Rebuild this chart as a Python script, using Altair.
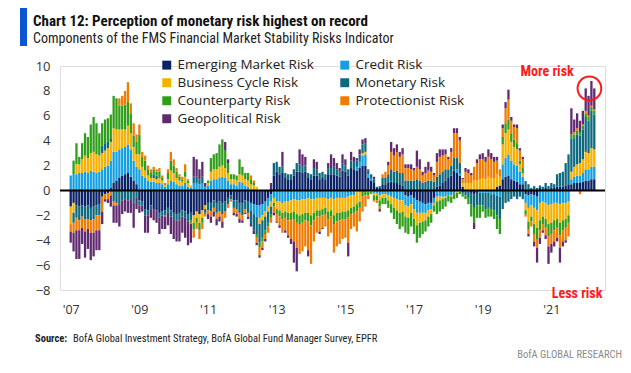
import json
import altair as alt
import pandas as pd

# ---- data: monthly components, Jan 2007 .. Apr 2022 (184 months) ----
EM = [
 -1.3,-1.0,-1.2,-1.3,-1.2,-1.3,-1.2,-1.4,-1.3,-1.2,-1.1,-0.5,
 -0.3,-0.2,0.2,0.6,0.8,1.0,1.2,1.3,1.4,1.1,0.8,0.5,
 -0.8,-0.9,-1.5,-1.6,-1.2,-1.5,-1.6,-1.8,-1.7,-1.6,-1.4,-1.6,
 -1.8,-1.9,-1.8,-1.6,-1.7,-1.9,-1.8,-2.0,-1.7,-1.9,-1.6,-1.2,
 -1.0,-1.0,-0.8,-1.0,-0.9,-1.0,-0.9,-0.6,-0.4,-0.8,-0.8,-1.0,
 -1.0,-0.8,-0.9,-1.0,-1.1,-1.2,-1.2,-1.1,-0.9,-0.6,-0.3,1.2,
 1.5,1.3,1.4,1.0,0.9,0.9,1.2,1.5,1.5,1.4,1.5,1.0,
 0.9,1.2,1.2,0.9,1.0,0.9,1.3,1.3,1.3,1.2,1.1,1.6,
 1.5,1.2,1.8,1.7,1.6,1.8,2.0,2.0,1.0,0.8,0.6,0.2,
 0.2,0.5,0.5,0.6,0.7,0.6,0.6,0.5,0.4,-0.4,-0.5,-0.4,
 -0.6,-0.8,-0.9,-1.0,-1.1,-1.0,-1.0,-0.6,0.3,0.4,0.6,0.8,
 1.0,1.2,1.6,1.4,1.2,0.3,0,0,-0.2,-0.3,-0.2,0,
 0,0,0,0,0,0.3,0.4,0.9,1.1,1.2,0.9,0.8,
 0.7,0.5,0.5,-0.3,-0.4,-0.3,-0.4,-0.5,0.2,0.1,0.2,0.1,
 0.2,0.2,0.3,0.3,0.3,0.4,0.5,0.5,0.6,0.6,0.6,0.7,
 0.8,0.8,0.9,0.9,
]
CR = [
 1.2,1.3,1.3,1.4,1.4,1.5,1.4,1.6,1.5,1.4,1.5,1.7,
 1.9,2.0,2.2,2.5,2.3,2.3,2.2,2.2,2.3,2.2,1.6,1.4,
 1.7,1.2,1.0,0.8,0.7,0.7,0.6,0.6,0.5,0.3,0.5,0.8,
 0.7,0.5,0.4,0.4,0.6,0.3,0.2,0.6,0.6,0.5,0.6,0.3,
 0.4,0.8,0.9,0.9,1.0,1.1,1.0,0.8,0.5,0.5,0.4,0.7,
 0.6,0.4,0.3,-0.6,-0.8,-0.9,-1.0,-0.9,-0.8,-0.7,-0.6,-0.6,
 -0.9,-0.9,-1.0,-0.9,-0.9,-0.8,-0.7,-0.8,-0.8,-0.7,-0.7,-0.6,
 -0.7,-0.7,-0.6,-0.6,-0.6,-0.6,-0.7,-0.6,-0.7,-0.6,-0.6,-0.6,
 -0.6,-0.5,-0.4,-0.4,0.3,0.5,0.8,0.9,0.3,0.2,-0.2,-0.2,
 -0.4,-0.3,-0.3,-0.4,-0.5,-0.6,-0.7,-0.8,-0.8,-0.8,-0.8,-0.7,
 -0.9,-1.0,-0.9,-0.8,-0.7,-0.6,-0.5,-0.4,-0.5,-0.5,-0.5,-0.5,
 -0.4,-0.4,-0.3,0.3,0.2,0,0,0,0,0,0,-0.2,
 -0.2,-0.2,-0.2,-0.3,-0.3,-0.4,-0.5,1.2,1.5,1.7,1.5,1.3,
 1.3,1.0,0.6,-0.7,-1.0,-0.9,-1.0,-1.1,-1.0,-0.9,-1.0,-1.2,
 -1.1,-1.0,-1.0,-1.1,-1.0,-1.0,-0.9,0.4,0.5,0.6,0.6,0.7,
 0.9,0.9,1.0,1.0,
]
BC = [
 -1.4,-0.8,0.8,0.7,1.1,1.3,1.2,1.4,1.6,1.5,1.3,1.3,
 1.3,1.4,1.5,1.9,1.8,1.6,1.5,1.4,1.5,1.3,1.1,1.0,
 1.2,0.7,0.6,0.4,0.3,0.3,0.3,0.4,0.3,0.1,0.4,0.8,
 0.7,0.5,0.4,0.3,0.5,0.3,0.2,-0.6,-0.5,-0.7,-0.6,-0.3,
 0.2,0.7,0.8,0.8,0.9,0.9,0.8,0.6,0.4,0.4,0.4,0.6,
 0.6,0.5,0.5,0.5,0.4,0.3,-0.5,-0.4,-0.4,-0.4,-0.4,-0.4,
 -0.6,-0.7,-0.8,-0.8,-0.9,-1.0,-1.0,-1.1,-1.2,-1.2,-1.1,-1.2,
 -1.3,-1.1,-1.0,-1.0,-0.9,-0.8,-1.0,-1.0,-1.3,-1.2,-1.2,-1.1,
 -1.1,-1.1,-1.0,-0.9,-1.1,-0.9,0.2,0.2,-0.1,-0.1,-0.2,-0.2,
 -0.4,-0.3,-0.3,-0.4,-0.6,-0.8,-0.9,-1.0,-0.9,-0.9,-0.9,-0.7,
 -0.8,-1.0,-0.8,-0.7,-0.6,-0.5,-0.4,-0.2,-0.4,-0.3,-0.2,-0.1,
 0,-0.1,0,-0.2,-0.1,0.3,0.6,0.6,0.6,0.8,0.8,0.9,
 1.0,0.9,1.1,1.0,1.0,1.0,0.7,1.6,2.0,2.0,1.5,1.4,
 1.3,0.6,0.3,-0.6,-1.1,-0.9,-1.3,-1.4,-1.4,-1.2,-1.3,-1.5,
 -1.5,-1.4,-1.3,-1.5,-1.4,-1.3,-1.1,0.6,0.8,0.9,1.0,1.1,
 1.4,1.3,1.5,1.4,
]
MO = [
 0,-0.8,-1.0,-1.1,-0.9,-1.0,-1.1,-1.0,-1.0,-0.8,-0.9,0.6,
 0.6,0.5,0.3,-0.9,-1.0,-1.1,-0.8,-0.7,-0.8,-0.7,-1.0,-0.6,
 -0.4,-0.3,-0.5,-0.4,-0.3,0.3,0.3,-0.4,-0.3,-0.4,-0.4,-0.5,
 -0.5,-0.5,-0.6,-0.5,-0.5,-0.6,-0.6,0.5,0.5,0.4,0.5,-0.3,
 -0.6,-0.7,-0.6,-0.8,-0.8,-0.9,-0.8,-0.5,-0.3,-0.6,-0.7,-0.8,
 -1.0,-0.7,-0.9,-1.1,-1.3,-1.4,-1.5,-1.4,-1.1,-0.9,-0.6,1.0,
 0.8,0.6,0.5,0.4,0.4,0.4,0.5,0.7,0.6,0.5,0.5,0.4,
 0.4,0.6,0.5,0.5,0.5,0.4,0.5,0.5,0.6,0.5,0.4,0.6,
 0.5,0.5,0.6,0.6,0.5,0.6,0.7,0.7,0.3,0.3,0.3,0.1,
 0.15,0.5,0.5,0.7,1.0,0.9,1.0,0.9,1.0,0.8,0.8,0.8,
 0.8,0.9,0.8,0.6,0.7,0.8,0.8,0.7,0.8,0.9,0.9,0.9,
 0.7,0.8,1.0,0.9,0.8,-0.2,-0.4,-0.6,-0.9,-1.1,-1.0,-1.0,
 -1.0,-1.3,-1.2,-1.2,-1.3,-1.6,-1.8,-1.5,-1.0,-0.9,-0.7,-0.5,
 -0.7,-0.5,-0.7,0.75,0.5,0.2,0.35,0.2,0.2,0.2,0.4,0.25,
 0.4,0.3,1.0,1.1,1.2,1.8,2.4,2.7,2.3,2.4,2.2,2.4,
 2.8,2.6,3.0,2.8,
]
CP = [
 0,1.1,1.7,0.6,1.3,1.8,1.7,2.3,2.8,2.5,1.8,1.8,
 1.9,1.9,1.9,2.6,2.5,1.9,1.9,2.0,1.9,1.6,0.9,1.0,
 1.6,0.8,0.8,0.5,0.4,0.4,0.3,0.5,0.2,-0.1,0.5,0.8,
 0.6,0.5,0.3,0.2,0.4,0.2,-0.2,-0.5,-0.4,-0.6,-0.4,-0.1,
 0.2,1.1,1.2,1.3,1.8,2.1,1.4,0.8,0.4,0.4,0.4,1.2,
 0.7,0.5,0.6,0.4,0.2,-0.3,-0.4,-0.3,-0.3,-0.3,-0.3,-0.3,
 -0.4,-0.5,-0.5,-0.5,-0.6,-0.6,-0.6,-0.7,-0.7,-0.7,-0.6,-0.7,
 -0.8,-0.6,-0.5,-0.5,-0.5,-0.5,-0.6,-0.5,-0.7,-0.7,-0.6,-0.6,
 -0.6,-0.6,-0.5,-0.5,-0.6,-0.5,-0.5,-0.4,-0.3,-0.1,-0.4,-0.4,
 -0.5,-0.5,-0.5,-0.6,-0.7,-0.9,-1.1,-1.3,-1.2,-1.3,-1.3,-1.1,
 -1.2,-1.4,-1.2,-1.0,-0.9,-0.8,-0.7,-0.5,-1.0,-0.9,-0.8,-0.7,
 -0.5,-0.5,-0.4,-0.4,-0.2,-0.3,-0.3,-0.5,-1.0,-1.2,-1.0,-1.0,
 -0.5,-0.7,-0.7,-0.6,-0.7,-1.1,-1.2,0.6,0.8,0.8,0.7,0.6,
 0.5,0.3,0.4,-0.3,-0.6,-0.4,-0.8,-0.9,-0.8,-0.6,-0.7,-1.0,
 -0.9,-0.8,-0.7,-1.0,-0.8,-0.7,-0.6,0.3,0.3,0.3,0.3,0.3,
 0.3,0.3,0.3,0.3,
]
PR = [
 -0.6,-0.8,-1.0,-0.8,-0.9,-1.0,-0.8,-1.0,-1.1,-1.2,-1.2,-1.2,
 -0.4,-0.5,-0.4,-0.3,-0.2,0.6,0.8,1.1,1.6,0.8,1.0,0.6,
 0.8,0.4,0.4,0.3,0.3,0.2,0.2,0.3,0.2,0.2,0.3,0.7,
 0.5,0.3,0.2,0.2,0.6,0.1,-0.1,-0.7,-0.5,-0.7,-0.5,-0.2,
 -0.3,-0.4,-0.3,-0.5,-0.4,-0.6,-0.5,-0.3,-0.2,-0.4,-0.4,-0.5,
 -0.4,-0.3,-0.3,0.3,0.2,-0.4,-0.6,-0.5,-0.4,-0.5,-0.4,-0.5,
 -0.6,-0.7,-1.1,-1.0,-1.2,-1.5,-1.8,-2.0,-2.4,-2.3,-2.1,-2.3,
 -3.1,-1.7,-1.3,-1.2,-1.0,-1.0,-1.4,-1.3,-2.3,-2.0,-1.9,-1.6,
 -1.5,-2.0,-1.2,-1.1,-1.6,-1.1,-1.2,-0.9,-0.3,-0.1,-0.1,-0.2,
 -0.2,0.3,0.5,0.7,1.4,1.3,1.5,1.3,1.5,1.0,1.0,0.9,
 0.8,1.0,0.9,0.6,0.7,0.8,0.7,0.5,1.2,1.4,1.3,1.2,
 0.8,1.1,2.0,2.0,1.8,0.3,0.9,0.8,0.6,1.1,1.4,1.6,
 1.5,1.4,1.6,1.5,1.3,1.1,0.6,0.7,1.2,1.6,1.0,1.0,
 1.2,0.8,0.7,-0.2,-0.4,-0.4,-0.6,-0.7,-0.6,-0.5,-0.6,-0.8,
 -0.8,-0.9,-0.8,-1.0,-0.9,-1.0,-1.1,0,0.2,0.2,-0.3,0.1,
 0.2,0.1,0.1,0.1,
]
GE = [
 -0.9,-1.5,-2.3,-2.3,-1.3,-2.1,-1.6,-2.2,-1.9,-1.6,-1.6,-1.0,
 -0.2,-0.3,-0.9,-1.4,-1.4,-1.8,-1.1,-1.0,-1.0,-1.1,-2.0,-0.9,
 -0.6,-0.5,-1.4,-1.4,-0.7,-0.9,-1.0,-1.3,-1.1,-1.0,-1.0,-1.4,
 -1.6,-1.7,-1.7,-1.3,-1.6,-1.9,-1.5,1.6,1.4,0.8,1.2,0.3,
 -0.4,-0.5,-0.4,-0.5,-0.4,-0.5,0.7,0.3,0,-0.2,-0.2,-0.3,
 -0.2,-0.1,-0.2,-0.2,-0.3,-0.2,-0.2,-0.2,-0.2,0,0.6,-0.2,
 -0.1,-0.2,1.2,-0.2,-0.2,-0.4,-1.7,-1.9,1.2,1.0,0.7,-0.5,
 0,0.7,0.6,-0.2,-0.1,0,0.4,1.1,0.7,0.5,0.3,0.7,
 0.5,-1.1,0.7,0.4,0.2,0.4,0.4,0.4,0.1,0,0.2,0,
 -0.2,0,0,0.3,0.8,0.6,0.6,0.4,0.5,0.3,0.3,0.4,
 0.2,1.3,0.8,0.3,0.5,0.7,0.4,0.2,0.7,0.6,0.5,0.4,
 0.2,0.3,0.4,0.4,0.3,0.1,0.3,0.3,0.2,-0.5,0.3,0.4,
 0.5,0.4,0.6,0.5,0.4,0.3,0,0.3,0.5,0.8,0.3,0.2,
 0.3,0.2,0.2,0,-0.2,0,-0.4,-1.2,-0.5,-0.2,-0.3,-1.4,
 -0.7,-0.4,-0.3,-1.2,-0.4,-0.2,0,2.1,1.0,1.2,0.9,1.1,
 1.8,1.6,2.0,1.7,
]

names = ["Emerging Market Risk", "Credit Risk", "Business Cycle Risk", "Monetary Risk",
         "Counterparty Risk", "Protectionist Risk", "Geopolitical Risk"]
colors = ["#0c2266", "#14a0e0", "#f5b000", "#0f6a80", "#2f9e1a", "#ef7b00", "#5f2a6f"]
series = [EM, CR, BC, MO, CP, PR, GE]

tick_months = [0, 24, 48, 72, 96, 120, 144, 168]
tick_labels = ["'07", "'09", "'11", "'13", "'15", "'17", "'19", "'21"]
y_ticks = [-8, -6, -4, -2, 0, 2, 4, 6, 8, 10]

title_text = "Chart 12: Perception of monetary risk highest on record"
subtitle_text = "Components of the FMS Financial Market Stability Risks Indicator"
source_text = "BofA Global Investment Strategy, BofA Global Fund Manager Survey, EPFR"

ann_m = [166.5, 177.0]
ann_v = [9.5, -8.3]
ann_t = ["More risk", "Less risk"]
circle_m = [181.3]
circle_v = [8.2]

rows = []
for k, (name, vals) in enumerate(zip(names, series)):
    for m, v in enumerate(vals):
        if v != 0:
            rows.append({"m": m, "risk": name, "v": v, "ord": k})
df = pd.DataFrame(rows)

NARROW = "Liberation Sans Narrow, Arial Narrow, Roboto Condensed, Liberation Sans"
REG = "Open Sans"

label_expr = f"{json.dumps(tick_labels)}[indexof({json.dumps(tick_months)}, datum.value)]"

xs = alt.Scale(domain=[-2, 185], nice=False, zero=False)
ys = alt.Scale(domain=[-8, 10], nice=False, zero=False)
xaxis = alt.Axis(values=tick_months, labelExpr=label_expr, title=None, domain=False,
                 ticks=False, grid=False, labelPadding=13, labelFontSize=12.5,
                 labelColor="#333", labelFont=REG, labelFlush=False,
                 labelOverlap=False, labelBound=False)
yaxis = alt.Axis(values=y_ticks, title=None, domain=False, ticks=False, grid=False,
                 labelPadding=10, labelFontSize=13, labelColor="#333", labelFont=REG,
                 labelFlush=False, labelOverlap=False, labelBound=False)

bars = alt.Chart(df).mark_bar(size=2.3).encode(
    x=alt.X("m:Q", scale=xs, axis=xaxis),
    y=alt.Y("v:Q", stack="zero", scale=ys, axis=yaxis),
    color=alt.Color("risk:N", scale=alt.Scale(domain=names, range=colors),
                    legend=alt.Legend(title=None, orient="none", legendX=100, legendY=-8,
                                      columns=2, direction="horizontal", symbolType="square",
                                      symbolSize=80, symbolStrokeWidth=0, labelFontSize=13.5,
                                      labelFont=REG, labelColor="#222", rowPadding=3,
                                      columnPadding=24, labelOffset=4, labelLimit=300)),
    order=alt.Order("ord:Q", sort="ascending"),
)

zero = alt.Chart(pd.DataFrame({"y": [0]})).mark_rule(color="black", strokeWidth=2).encode(
    y=alt.Y("y:Q", scale=ys, axis=yaxis))

ann = alt.Chart(pd.DataFrame({"m": ann_m, "v": ann_v, "t": ann_t})).mark_text(
    color="#ff1a1a", fontWeight="bold", fontSize=14, font=NARROW).encode(
    x=alt.X("m:Q", scale=xs, axis=xaxis), y=alt.Y("v:Q", scale=ys, axis=yaxis), text="t:N")

circ = alt.Chart(pd.DataFrame({"m": circle_m, "v": circle_v})).mark_point(
    shape="circle", filled=False, stroke="#ff1a1a", strokeWidth=2, size=560, opacity=1).encode(
    x=alt.X("m:Q", scale=xs, axis=xaxis), y=alt.Y("v:Q", scale=ys, axis=yaxis))

one = pd.DataFrame({"a": [0]})
bluebar = alt.Chart(one).mark_rect(color="#0a55d6").encode(
    x=alt.value(-40), x2=alt.value(-33), y=alt.value(-58), y2=alt.value(-20))
title = alt.Chart(one).mark_text(align="left", baseline="alphabetic", fontSize=15,
                                 fontWeight="bold", font=NARROW, color="#111").encode(
    x=alt.value(-27), y=alt.value(-40), text=alt.value(title_text))
subtitle = alt.Chart(one).mark_text(align="left", baseline="alphabetic", fontSize=14,
                                    font=NARROW, color="#222").encode(
    x=alt.value(-27), y=alt.value(-23), text=alt.value(subtitle_text))
src_b = alt.Chart(one).mark_text(align="left", baseline="alphabetic", fontSize=10.5,
                                 fontWeight="bold", font=NARROW, color="#222").encode(
    x=alt.value(-25), y=alt.value(276), text=alt.value("Source:"))
src = alt.Chart(one).mark_text(align="left", baseline="alphabetic", fontSize=10.5,
                               font=NARROW, color="#222").encode(
    x=alt.value(13), y=alt.value(276), text=alt.value(source_text))
bofa = alt.Chart(one).mark_text(align="right", baseline="alphabetic", fontSize=10.5,
                                font=NARROW, color="#8a8a8a").encode(
    x=alt.value(562), y=alt.value(292), text=alt.value("BofA GLOBAL RESEARCH"))

chart = alt.layer(bars, zero, ann, circ, bluebar, title, subtitle, src_b, src, bofa).properties(
    width=545, height=224,
    autosize=alt.AutoSizeParams(type="none"),
    padding={"left": 52, "top": 58, "right": 18, "bottom": 75},
).configure_view(stroke=None).configure(background="white")

chart.save("out.html", embed_options={"renderer": "svg", "actions": False})
